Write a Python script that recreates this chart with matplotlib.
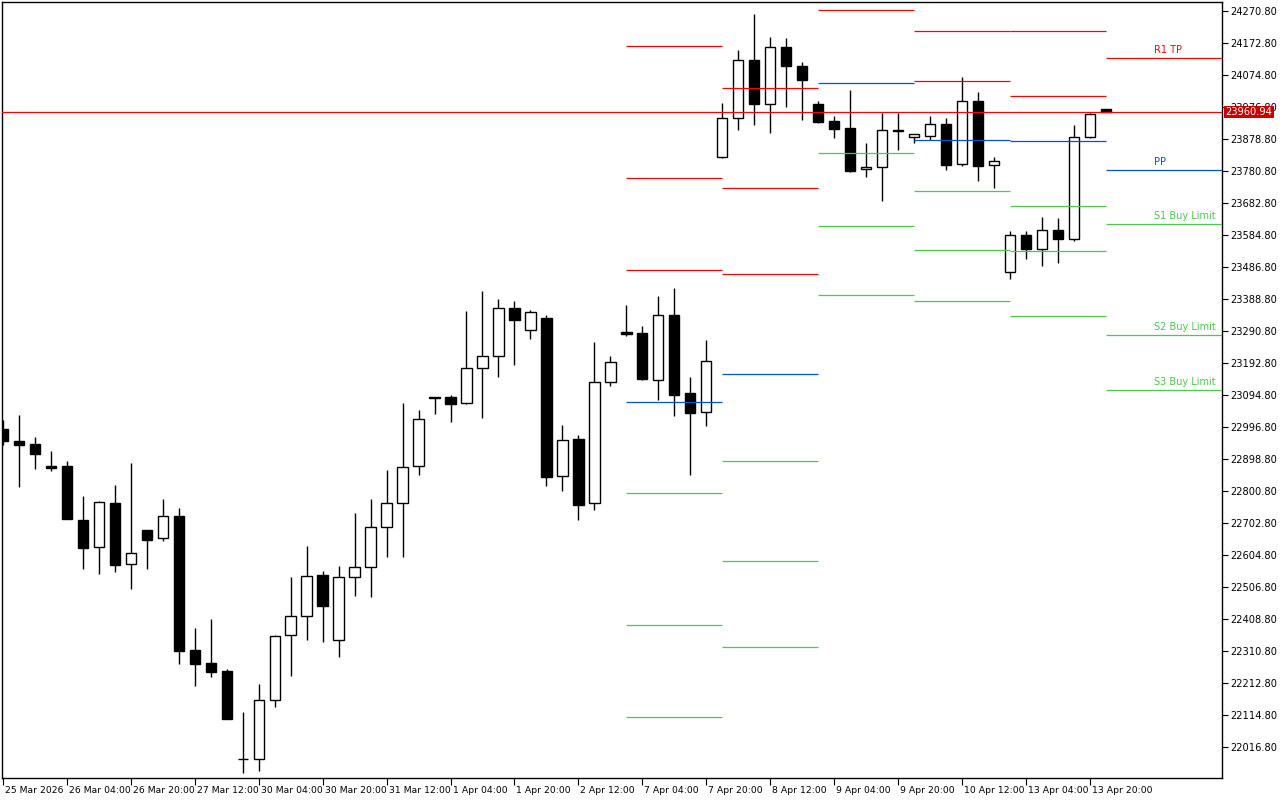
import numpy as np
import matplotlib
matplotlib.use("Agg")
import matplotlib.pyplot as plt
import matplotlib.transforms as mtransforms

# 4H candles, index 0 = first bar on the chart
opens = [22990.7, 22953.9, 22944.7, 22877.4, 22877.4, 22712.0, 22629.3, 22764.1, 22577.2, 22681.4,
         22656.9, 22724.2, 22313.9, 22274.0, 22249.5, 21980.0, 21980.0, 22160.7, 22359.8, 22418.0,
         22543.6, 22344.5, 22537.4, 22568.1, 22690.6, 22764.1, 22877.4, 23088.7, 23088.7, 23070.3,
         23177.5, 23214.2, 23361.2, 23293.9, 23330.6, 22846.7, 22960.1, 22764.1, 23134.6, 23287.7,
         23284.7, 23140.7, 23339.8, 23100.9, 23042.7, 23823.7, 23943.1, 24120.7, 23986.0, 24160.5,
         24102.4, 23986.0, 23933.9, 23912.5, 23786.9, 23793.1, 23906.4, 23884.9, 23888.0, 23924.7,
         23802.2, 23995.2, 23799.2, 23471.5, 23584.8, 23541.9, 23600.1, 23572.6, 23884.9, 23970.7]
highs = [23018.2, 23033.6, 22966.2, 22923.3, 22892.7, 22785.5, 22770.2, 22819.2, 22886.6, 22681.4,
         22776.3, 22748.7, 22381.2, 22408.8, 22255.7, 22124.0, 22209.7, 22359.8, 22537.4, 22632.4,
         22555.8, 22571.1, 22733.4, 22776.3, 22865.1, 23070.3, 23048.9, 23088.7, 23094.8, 23352.1,
         23413.3, 23388.8, 23382.7, 23355.1, 23339.8, 23002.9, 22972.3, 23257.1, 23214.2, 23370.4,
         23306.1, 23398.0, 23422.5, 23149.9, 23263.2, 23989.0, 24151.4, 24261.6, 24191.2, 24188.1,
         24114.6, 23995.2, 23949.2, 24028.9, 23866.6, 23958.4, 23958.4, 23894.1, 23949.2, 23943.1,
         24068.7, 24022.7, 23823.7, 23597.1, 23597.1, 23639.9, 23636.9, 23921.7, 23958.4, 23970.7]
lows = [22941.7, 22813.1, 22868.2, 22862.1, 22715.1, 22561.9, 22546.6, 22552.7, 22500.7, 22561.9,
        22647.7, 22271.0, 22203.6, 22231.2, 22102.5, 21937.2, 21943.3, 22139.3, 22234.2, 22344.5,
        22338.4, 22292.4, 22479.2, 22476.2, 22598.7, 22598.7, 22849.8, 23036.6, 23012.1, 23067.2,
        23024.4, 23149.9, 23186.7, 23266.3, 22816.1, 22800.8, 22712.0, 22742.6, 23122.4, 23275.5,
        23140.7, 23079.5, 23030.5, 22849.8, 22999.9, 23820.6, 23906.4, 23921.7, 23897.2, 23976.8,
        23937.0, 23927.8, 23881.9, 23777.7, 23762.4, 23688.9, 23845.1, 23866.6, 23875.7, 23783.9,
        23796.1, 23750.2, 23728.7, 23450.1, 23511.3, 23489.9, 23499.1, 23566.4, 23881.9, 23960.94]
closes = [22953.9, 22941.7, 22914.1, 22871.2, 22715.1, 22626.2, 22767.1, 22574.2, 22610.9, 22650.7,
          22724.2, 22310.8, 22271.0, 22246.5, 22102.5, 21981.0, 22160.7, 22356.7, 22418.0, 22540.5,
          22448.6, 22537.4, 22568.1, 22690.6, 22764.1, 22874.3, 23021.3, 23085.6, 23067.2, 23177.5,
          23214.2, 23361.2, 23324.5, 23349.0, 22843.7, 22957.0, 22757.9, 23134.6, 23195.9, 23281.6,
          23143.8, 23339.8, 23094.8, 23039.7, 23198.9, 23943.1, 24120.7, 23986.0, 24160.5, 24102.4,
          24059.5, 23930.9, 23909.4, 23780.8, 23793.1, 23906.4, 23903.3, 23894.1, 23924.7, 23799.2,
          23995.2, 23796.1, 23811.4, 23584.8, 23541.9, 23600.1, 23572.6, 23884.9, 23955.4, 23960.94]

# daily pivot levels (7, 8, 9, 10, 13, 14 Apr); nan = off the chart
day_start = [39, 45, 51, 57, 63, 69]
r3 = [24163.6, 24035.0, np.nan, np.nan, np.nan, np.nan]
r2 = [23759.4, 23728.7, np.nan, 24209.6, 24209.6, np.nan]
r1 = [23477.6, 23465.4, 24273.9, 24056.4, 24010.5, 24126.9]
pp = [23073.4, 23159.1, 24050.3, 23875.7, 23872.7, 23783.9]
s1 = [22794.7, 22892.7, 23835.9, 23719.5, 23673.6, 23618.5]
s2 = [22390.4, 22586.4, 23612.4, 23538.9, 23535.8, 23278.6]
s3 = [22108.7, 22323.1, 23401.1, 23382.7, 23336.7, 23110.1]

last_price = 23960.94
y_ticks = [22016.8 + 98 * k for k in range(24)]
x_labels = ['25 Mar 2026', '26 Mar 04:00', '26 Mar 20:00', '27 Mar 12:00', '30 Mar 04:00',
            '30 Mar 20:00', '31 Mar 12:00', '1 Apr 04:00', '1 Apr 20:00', '2 Apr 12:00',
            '7 Apr 04:00', '7 Apr 20:00', '8 Apr 12:00', '9 Apr 04:00', '9 Apr 20:00',
            '10 Apr 12:00', '13 Apr 04:00', '13 Apr 20:00']

RED = '#FF0000'
BLUE = '#0050D8'
GREEN = '#4CC84C'

plt.rcParams['font.family'] = ['DejaVu Sans']
fig = plt.figure(figsize=(12.8, 8), dpi=100)
ax = fig.add_axes([2 / 1280, 22 / 800, 1220 / 1280, 776 / 800])

x = np.arange(len(opens))
o = np.array(opens)
c = np.array(closes)

# candles
ax.vlines(x, lows, highs, color='black', lw=1.0, zorder=2)
bull = c >= o
body_h = np.maximum(np.abs(c - o), 1.0)
ax.bar(x[bull], body_h[bull], bottom=o[bull], width=0.64, facecolor='white',
       edgecolor='black', linewidth=1.0, zorder=3)
ax.bar(x[~bull], body_h[~bull], bottom=c[~bull], width=0.64, facecolor='black',
       edgecolor='black', linewidth=1.0, zorder=3)

# pivot levels
xmax = 76.25
for k, start in enumerate(day_start):
    end = start + 6 if k < len(day_start) - 1 else xmax
    for vals, col in [(r3, RED), (r2, RED), (r1, RED), (pp, BLUE), (s1, GREEN), (s2, GREEN), (s3, GREEN)]:
        if not np.isnan(vals[k]):
            ax.hlines(vals[k], start, end, color=col, lw=0.9, zorder=4)

# labels of current day levels
for val, txt, col in [(r1[-1], 'R1 TP', RED), (pp[-1], 'PP', BLUE), (s1[-1], 'S1 Buy Limit', GREEN),
                      (s2[-1], 'S2 Buy Limit', GREEN), (s3[-1], 'S3 Buy Limit', GREEN)]:
    ax.annotate(txt, (72, val), xytext=(0, 2), textcoords='offset points',
                color=col, fontsize=7, ha='left', va='bottom')

# current price line
ax.axhline(last_price, color=RED, lw=0.9, zorder=4)

ax.set_xlim(-0.05, xmax)
ax.set_ylim(21921.9, 24298.4)

ax.yaxis.tick_right()
ax.set_yticks(y_ticks)
ax.set_yticklabels([f'{v:.2f}' for v in y_ticks])
ax.tick_params(axis='y', direction='out', length=4, width=0.8, labelsize=7.1, pad=2)

ax.set_xticks(np.arange(0, 4 * len(x_labels), 4))
ax.set_xticklabels(x_labels, ha='left')
ax.tick_params(axis='x', direction='out', length=5, width=0.8, labelsize=6.7, pad=1)
offset = mtransforms.ScaledTranslation(2 / 100, 0, fig.dpi_scale_trans)
for lbl in ax.get_xticklabels():
    lbl.set_transform(lbl.get_transform() + offset)

for sp in ax.spines.values():
    sp.set_linewidth(1.0)
    sp.set_color('black')

# price tag on the right axis
ax.annotate(f'{last_price:.2f}', xy=(1.0, last_price), xycoords=('axes fraction', 'data'),
            xytext=(2.5, 0), textcoords='offset points', ha='left', va='center',
            fontsize=7.1, color='white', zorder=10, annotation_clip=False,
            bbox=dict(boxstyle='square,pad=0.12', facecolor='#C80000', edgecolor='none'))

fig.savefig('out.png', dpi=100)
